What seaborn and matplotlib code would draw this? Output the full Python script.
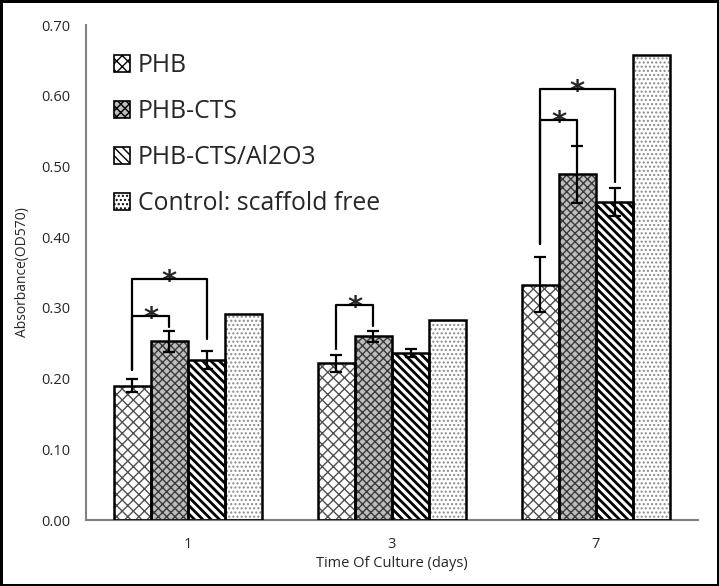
import numpy as np
import pandas as pd
import matplotlib
matplotlib.use("Agg")
import matplotlib.pyplot as plt
from matplotlib.patches import Patch, Rectangle
import seaborn as sns

# values
days = ["1", "3", "7"]
groups = ["PHB", "PHB-CTS", "PHB-CTS/Al2O3", "Control: scaffold free"]
phb = [0.190, 0.222, 0.333]
phb_cts = [0.253, 0.260, 0.489]
phb_cts_al = [0.226, 0.236, 0.450]
control = [0.291, 0.283, 0.658]
phb_err = [0.009, 0.012, 0.039]
phb_cts_err = [0.015, 0.008, 0.040]
phb_cts_al_err = [0.013, 0.006, 0.020]
control_err = [0.0, 0.0, 0.0]

# significance brackets: (day index, group a, group b, top, leg a bottom, leg b bottom)
brackets = [
    (0, 0, 1, 0.289, 0.212, 0.273),
    (0, 0, 2, 0.341, 0.212, 0.256),
    (1, 0, 1, 0.304, 0.242, 0.275),
    (2, 0, 1, 0.566, 0.390, 0.529),
    (2, 0, 2, 0.610, 0.390, 0.478),
]

df = pd.DataFrame({
    "day": np.repeat(days, len(groups)),
    "group": groups * len(days),
    "value": np.ravel(np.column_stack([phb, phb_cts, phb_cts_al, control])),
})
errs = [phb_err, phb_cts_err, phb_cts_al_err, control_err]

faces = ["white", "#bdbdbd", "white", "white"]
hatches = ["xxx", "xxxx", "\\" * 4, "...."]
hatch_cols = ["#505050", "#3a3a3a", "black", "#8a8a8a"]
hatch_lws = [1.0, 1.0, 2.0, 1.0]

sns.set_style("white")
plt.rcParams["font.family"] = ["Open Sans", "DejaVu Sans"]

fig = plt.figure(figsize=(7.19, 5.86), dpi=100)
fig.patch.set_edgecolor("black")
fig.patch.set_linewidth(2.5)
ax = fig.add_axes([0.1196, 0.1126, 0.8512, 0.8447])

sns.barplot(data=df, x="day", y="value", hue="group", order=days,
            hue_order=groups, width=0.73, errorbar=None, saturation=1,
            palette=["white"] * 4, legend=False, ax=ax)

bar_sets = list(ax.containers)
centers = []
for i, cont in enumerate(bar_sets):
    xs = []
    for bar in cont.patches:
        bar.set_facecolor(faces[i])
        bar.set_hatch(hatches[i])
        bar.set_edgecolor(hatch_cols[i])
        bar.set_linewidth(0)
        if hasattr(bar, "set_hatch_linewidth"):
            bar.set_hatch_linewidth(hatch_lws[i])
        x0, y0 = bar.get_xy()
        ax.add_patch(Rectangle((x0, y0), bar.get_width(), bar.get_height(),
                               fill=False, edgecolor="black", linewidth=1.8, zorder=3))
        xs.append(x0 + bar.get_width() / 2)
    centers.append(xs)
    vals = df[df["group"] == groups[i]]["value"].values
    if max(errs[i]) > 0:
        ax.errorbar(xs, vals, yerr=errs[i], fmt="none", ecolor="black",
                    elinewidth=1.6, capsize=4, capthick=1.6, zorder=4)

for d, a, b, top, ya, yb in brackets:
    xa, xb = centers[a][d], centers[b][d]
    ax.plot([xa, xa, xb, xb], [ya, top, top, yb], color="black", lw=1.6, zorder=4)
    ax.annotate("*", xy=((xa + xb) / 2, top), xytext=(0, -8), textcoords="offset points",
                ha="center", va="baseline", fontsize=21, fontweight="bold",
                family="DejaVu Sans")

ax.set_ylim(0, 0.70)
ax.set_xlim(-0.5, 2.5)
ax.set_yticks(np.arange(0, 0.71, 0.10))
ax.set_yticklabels([f"{v:.2f}" for v in np.arange(0, 0.71, 0.10)])
ax.set_xticks([-0.5, 0.5, 1.5, 2.5], minor=True)
ax.tick_params(axis="x", which="major", length=0, labelsize=10.5, pad=12)
ax.tick_params(axis="x", which="minor", length=5, color="#808080", width=1.2, direction="out")
ax.tick_params(axis="y", length=5, color="#808080", width=1.2, direction="out", labelsize=10.5, pad=6)
sns.despine(ax=ax)
for s in ["left", "bottom"]:
    ax.spines[s].set_color("#808080")
    ax.spines[s].set_linewidth(1.5)

ax.set_xlabel("Time Of Culture (days)", fontsize=10.5, labelpad=3)
ax.set_ylabel("Absorbance(OD570)", fontsize=10, labelpad=8)

handles = [Patch(facecolor=faces[i], hatch=hatches[i], edgecolor="black", linewidth=1.2)
           for i in range(len(groups))]
ax.legend(handles, groups, loc="upper left", bbox_to_anchor=(0.03, 0.963), frameon=False,
          fontsize=17.8, handlelength=0.65, handleheight=0.65, handletextpad=0.3,
          labelspacing=0.85, borderaxespad=0)

fig.savefig("out.png", dpi=100, edgecolor=fig.get_edgecolor())
